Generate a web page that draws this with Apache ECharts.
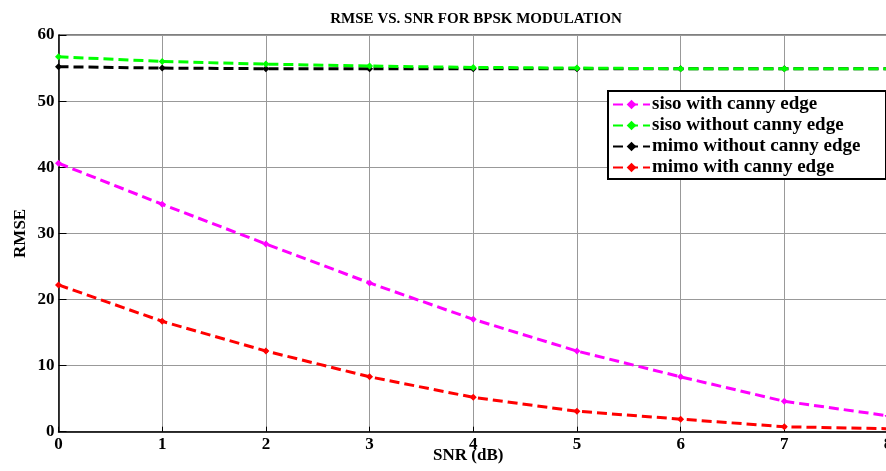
<!DOCTYPE html>
<html><head><meta charset="utf-8">
<script src="https://cdn.jsdelivr.net/npm/echarts@6/dist/echarts.min.js"></script>
<style>html,body{margin:0;padding:0;background:#fff}#c{width:886px;height:471px}</style>
</head><body><div id="c"></div>
<script>
const snr = [0,1,2,3,4,5,6,7,8];
const sisoWithCanny = [40.6,34.4,28.4,22.5,17.0,12.2,8.3,4.6,2.4];
const sisoWithoutCanny = [56.7,56.0,55.6,55.3,55.1,55.0,54.9,54.9,54.9];
const mimoWithoutCanny = [55.2,55.0,54.9,54.9,54.9,54.9,54.9,54.9,54.9];
const mimoWithCanny = [22.2,16.7,12.2,8.3,5.2,3.1,1.9,0.75,0.45];
const seriesNames = ['siso with canny edge','siso without canny edge','mimo without canny edge','mimo with canny edge'];
const seriesColors = ['#ff00ff','#00ff00','#000000','#ff0000'];
const seriesData = [sisoWithCanny, sisoWithoutCanny, mimoWithoutCanny, mimoWithCanny];
const font = '"Liberation Serif","Times New Roman",serif';

const chart = echarts.init(document.getElementById('c'));
chart.setOption({
  animation: false,
  backgroundColor: '#fff',
  title: {
    text: 'RMSE VS. SNR FOR BPSK MODULATION',
    left: 471, top: 7, textAlign: 'center',
    textStyle: {fontFamily: font, fontWeight: 'bold', fontSize: 15, color: '#000'}
  },
  grid: {left: 58.5, right: -2, top: 35, bottom: 39.3, outerBoundsMode: 'none', containLabel: false,
         show: true, borderColor: '#000', borderWidth: 1},
  graphic: [{
    type: 'rect', left: 607, top: 90, z: 90,
    shape: {width: 278, height: 88},
    style: {fill: '#fff', stroke: '#000', lineWidth: 2}
  }],
  legend: {
    orient: 'vertical', left: 612, top: 95, z: 100,
    padding: 0, itemGap: 2, itemWidth: 37, itemHeight: 12,
    textStyle: {fontFamily: font, fontWeight: 'bold', fontSize: 19, lineHeight: 19, color: '#000', padding: [0,0,0,-3]},
    data: seriesNames
  },
  xAxis: {
    type: 'value', min: 0, max: 8, interval: 1,
    name: 'SNR (dB)', nameLocation: 'middle', nameGap: 15, nameMoveOverlap: false,
    nameTextStyle: {fontFamily: font, fontWeight: 'bold', fontSize: 17, color: '#000', padding: [0,10,0,0]},
    axisLine: {lineStyle: {color: '#000', width: 1.5}},
    axisTick: {inside: true, length: 5, lineStyle: {color: '#000'}},
    axisLabel: {fontFamily: font, fontWeight: 'bold', fontSize: 17, color: '#000', margin: 4},
    splitLine: {lineStyle: {color: '#999', width: 1}}
  },
  yAxis: {
    type: 'value', min: 0, max: 60, interval: 10,
    name: 'RMSE', nameLocation: 'middle', nameGap: 29, nameMoveOverlap: false,
    nameTextStyle: {fontFamily: font, fontWeight: 'bold', fontSize: 17, color: '#000'},
    axisLine: {show: true, lineStyle: {color: '#000', width: 1.5}},
    axisTick: {show: true, inside: true, length: 8, lineStyle: {color: '#000'}},
    axisLabel: {fontFamily: font, fontWeight: 'bold', fontSize: 17, color: '#000', margin: 4},
    splitLine: {lineStyle: {color: '#999', width: 1}}
  },
  series: seriesNames.map((n, i) => ({
    name: n, type: 'line',
    data: snr.map((x, j) => [x, seriesData[i][j]]),
    symbol: 'diamond', symbolSize: 7,
    itemStyle: {color: seriesColors[i]},
    lineStyle: {color: seriesColors[i], width: 3, type: [10, 5]},
    z: 4 - i
  }))
});
</script></body></html>
